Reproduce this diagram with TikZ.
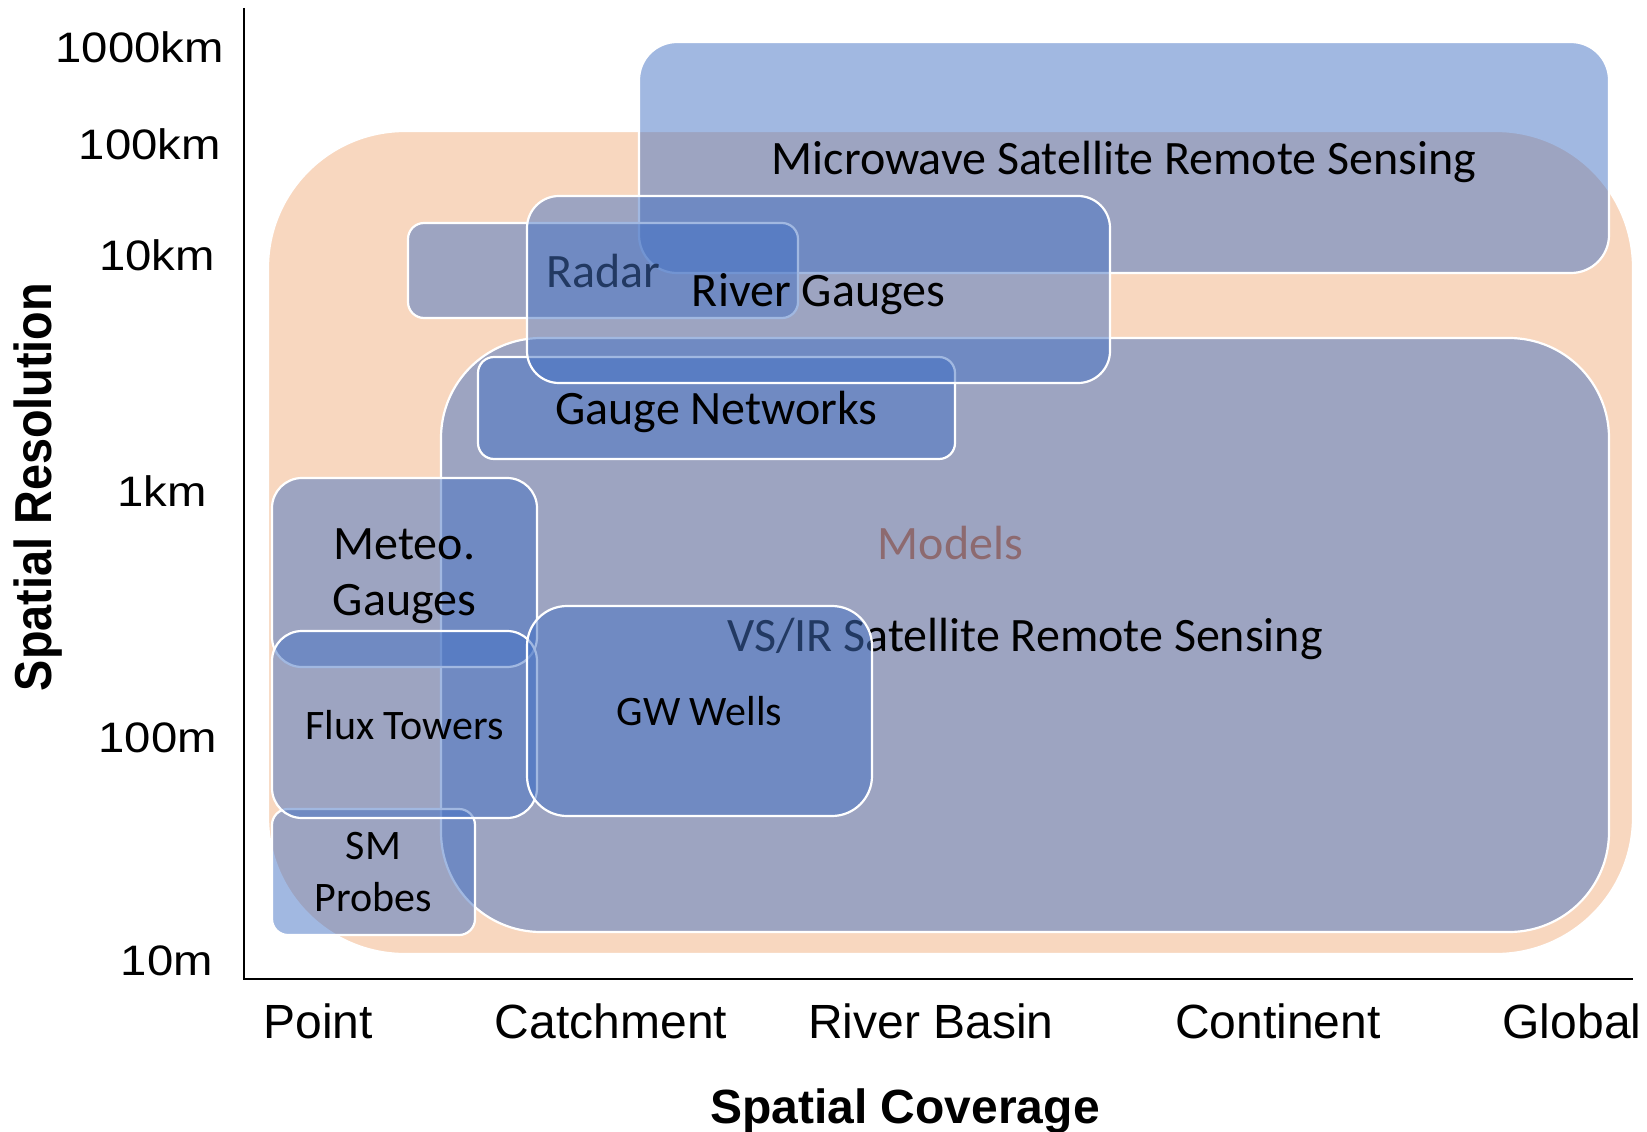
\documentclass[tikz,border=0pt]{standalone}
\usepackage{fontspec}
\setmainfont{Carlito}
\newfontfamily\axisfont{Liberation Sans}
\newfontfamily\tickfont[FakeStretch=1.11]{Liberation Sans}
\newfontfamily\ylabelfont[FakeStretch=0.9]{Liberation Sans}
\usetikzlibrary{positioning}
\definecolor{srink}{HTML}{000000}
\definecolor{srblue}{HTML}{4472C4}
\definecolor{srpeach}{HTML}{F8D7BF}
\definecolor{srorange}{HTML}{D8621A}
\tikzset{
  sr region/.style={draw=white, line width=2.2pt, fill=srblue, fill opacity=0.5,
    text opacity=1, inner sep=0pt, outer sep=0pt, align=center, text=srink,
    text depth=0pt, font=\fontsize{48}{56}\selectfont},
  sr small/.style={font=\fontsize{42}{52}\selectfont},
  sr axis/.style={draw=srink, line width=2pt},
  sr tick/.style={font=\tickfont\fontsize{42.6}{48}\selectfont, text=srink,
    anchor=east, inner sep=0pt},
  sr cat/.style={font=\axisfont\fontsize{48}{56}\selectfont, text=srink,
    anchor=base, inner sep=0pt},
  sr title/.style={font=\axisfont\bfseries\fontsize{48}{56}\selectfont,
    text=srink, inner sep=0pt}
}

\begin{document}
\begin{tikzpicture}[x=1pt, y=-1pt]
  \useasboundingbox (0,0) rectangle (1647,1132);
  % background regions
  \node[sr region, fill=srpeach, fill opacity=1, text=srorange,
    minimum width=1365pt, minimum height=823pt, rounded corners=137pt]
    (models) at (950.5,542.5) {Models};
  \node[sr region, minimum width=970pt, minimum height=231pt, rounded corners=38pt]
    (microwave) at (1124,157.5) {Microwave Satellite Remote Sensing};
  \node[sr region, minimum width=1168pt, minimum height=594pt, rounded corners=100pt]
    (vsir) at (1025,635) {VS/IR Satellite Remote Sensing};
  % in-situ networks
  \node[sr region, sr small, minimum width=203pt, minimum height=126pt, rounded corners=16pt]
    (sm) at (373.5,872) {SM\\Probes};
  \node[sr region, minimum width=265pt, minimum height=189pt, rounded corners=30pt]
    (meteo) at (404.5,572.5) {Meteo.\\Gauges};
  \node[sr region, sr small, minimum width=265pt, minimum height=187pt, rounded corners=30pt]
    (flux) at (404.5,724.5) {Flux Towers};
  \node[sr region, minimum width=390pt, minimum height=95pt, rounded corners=16pt]
    (radar) at (603,270.5) {Radar};
  \node[sr region, minimum width=477pt, minimum height=102pt, rounded corners=16pt]
    (gaugenet) at (716.5,408) {Gauge Networks};
  \node[sr region, minimum width=583pt, minimum height=187pt, rounded corners=32pt]
    (river) at (818.5,289.5) {River Gauges};
  \node[sr region, sr small, minimum width=345pt, minimum height=210pt, rounded corners=40pt]
    (gw) at (699.5,711) {GW Wells};
  % axes
  \coordinate (ytop) at (244,8);
  \coordinate (origin) at (244,979);
  \coordinate (xend) at (1633,979);
  \draw[sr axis] (ytop) -- (origin) -- (xend);
  \node[sr tick] (t1000km) at (224,47) {1000km};
  \node[sr tick] (t100km) at (221,144) {100km};
  \node[sr tick] (t10km) at (215,255) {10km};
  \node[sr tick] (t1km) at (207,491) {1km};
  \node[sr tick] (t100m) at (217,738) {100m};
  \node[sr tick] (t10m) at (213,961) {10m};
  \node[sr cat] (point) at (318,1038) {Point};
  \node[sr cat] (catchment) at (611,1038) {Catchment};
  \node[sr cat] (basin) at (931,1038) {River Basin};
  \node[sr cat] (continent) at (1278,1038) {Continent};
  \node[sr cat] (global) at (1572,1038) {Global};
  \node[sr title, anchor=base] (xtitle) at (905,1123) {Spatial Coverage};
  \node[sr title, font=\ylabelfont\bfseries\fontsize{52}{60}\selectfont, rotate=90]
    (ytitle) at (38,487) {Spatial Resolution};
\end{tikzpicture}
\end{document}
